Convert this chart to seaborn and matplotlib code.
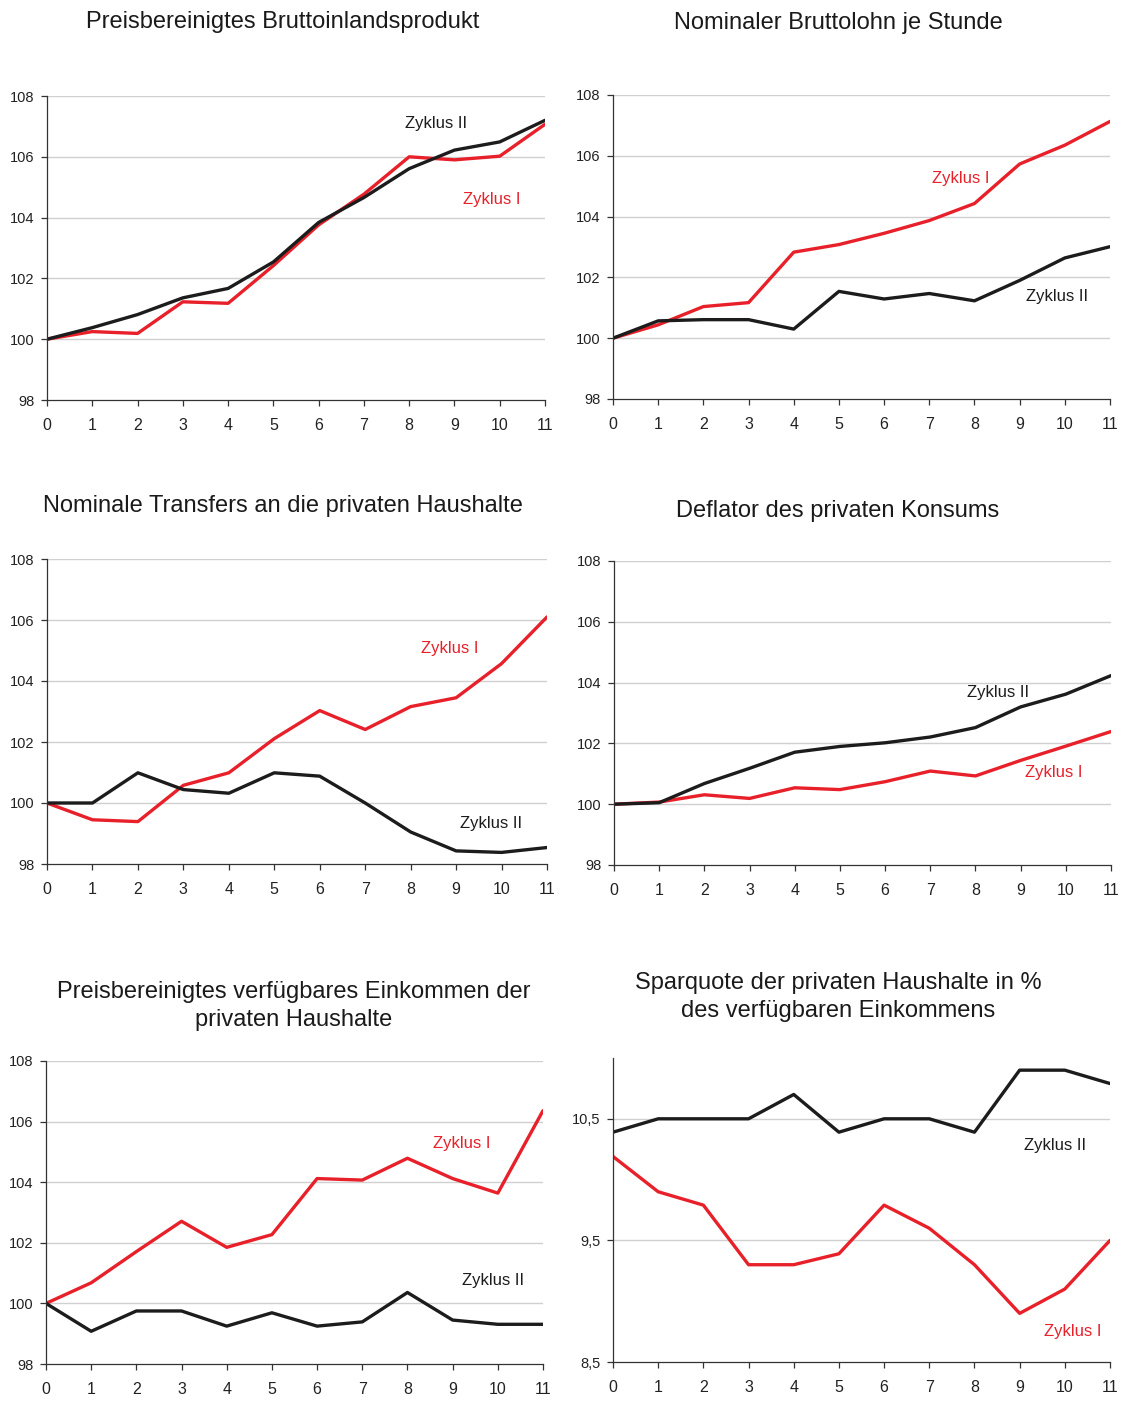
import numpy as np
import pandas as pd
import seaborn as sns
import matplotlib
matplotlib.use('Agg')
import matplotlib.pyplot as plt

sns.set_style('white')
plt.rcParams['font.family'] = ['Liberation Sans', 'DejaVu Sans']

## data
quarters = list(range(12))

bip_z1 = [100, 100.25, 100.19, 101.23, 101.18, 102.42, 103.76, 104.77, 106.0, 105.9, 106.02, 107.07]
bip_z2 = [100, 100.38, 100.81, 101.36, 101.67, 102.54, 103.84, 104.66, 105.61, 106.22, 106.49, 107.2]

lohn_z1 = [100, 100.44, 101.04, 101.17, 102.83, 103.08, 103.45, 103.87, 104.43, 105.73, 106.35, 107.13]
lohn_z2 = [100, 100.57, 100.61, 100.61, 100.3, 101.54, 101.29, 101.47, 101.23, 101.9, 102.64, 103.01]

transfer_z1 = [100, 99.45, 99.39, 100.58, 100.99, 102.11, 103.03, 102.41, 103.16, 103.45, 104.57, 106.1]
transfer_z2 = [100, 100.0, 100.99, 100.44, 100.32, 100.99, 100.88, 100.0, 99.05, 98.43, 98.38, 98.54]

deflator_z1 = [100, 100.07, 100.31, 100.19, 100.54, 100.48, 100.74, 101.09, 100.93, 101.44, 101.91, 102.39]
deflator_z2 = [100, 100.05, 100.68, 101.18, 101.71, 101.9, 102.02, 102.21, 102.52, 103.2, 103.62, 104.23]

einkommen_z1 = [100, 100.68, 101.71, 102.71, 101.85, 102.27, 104.12, 104.07, 104.79, 104.12, 103.64, 106.36]
einkommen_z2 = [100, 99.08, 99.75, 99.75, 99.25, 99.69, 99.25, 99.39, 100.36, 99.45, 99.31, 99.31]

spar_z1 = [10.19, 9.9, 9.79, 9.3, 9.3, 9.39, 9.79, 9.6, 9.3, 8.9, 9.1, 9.5]
spar_z2 = [10.39, 10.5, 10.5, 10.5, 10.7, 10.39, 10.5, 10.5, 10.39, 10.9, 10.9, 10.79]

titles = ['Preisbereinigtes Bruttoinlandsprodukt',
          'Nominaler Bruttolohn je Stunde',
          'Nominale Transfers an die privaten Haushalte',
          'Deflator des privaten Konsums',
          'Preisbereinigtes verfügbares Einkommen der\nprivaten Haushalte',
          'Sparquote der privaten Haushalte in %\ndes verfügbaren Einkommens']

index_ticks = [98, 100, 102, 104, 106, 108]
spar_ticks = [8.5, 9.5, 10.5]
spar_ticklabels = ['8,5', '9,5', '10,5']

red = '#e8202a'
black = '#1c1c1c'

W, H = 1125, 1401
fig = plt.figure(figsize=(W / 100, H / 100), dpi=100)

def add_ax(l, t, r, b):
    return fig.add_axes([l / W, 1 - b / H, (r - l) / W, (b - t) / H])

# pixel boxes of each plot area
boxes = [(47, 96, 545, 400), (613, 95, 1110, 399),
         (47, 559, 547, 864), (614, 561, 1111, 865),
         (46, 1061, 543, 1364), (613, 1058, 1110, 1362)]
# title centres in pixels
title_xy = [(283, 22), (838, 23), (283, 506), (838, 511), (294, 1006), (838, 997)]

series = [(bip_z1, bip_z2), (lohn_z1, lohn_z2), (transfer_z1, transfer_z2),
          (deflator_z1, deflator_z2), (einkommen_z1, einkommen_z2), (spar_z1, spar_z2)]

# label positions (data coords, left aligned): (x, y) for Zyklus I, Zyklus II
label_pos = [((9.19, 104.61), (7.9, 107.08)),
             ((7.06, 105.24), (9.14, 101.36)),
             ((8.23, 105.05), (9.09, 99.34)),
             ((9.1, 101.03), (7.81, 103.66)),
             ((8.57, 105.29), (9.21, 100.77)),
             ((9.54, 8.75), (9.1, 10.28))]

for i, box in enumerate(boxes):
    ax = add_ax(*box)
    z1, z2 = series[i]
    df = pd.DataFrame({'q': quarters * 2, 'v': z1 + z2,
                       'z': ['Zyklus I'] * 12 + ['Zyklus II'] * 12})
    sns.lineplot(data=df, x='q', y='v', hue='z', palette={'Zyklus I': red, 'Zyklus II': black},
                 linewidth=2.4, legend=False, ax=ax)
    ax.set_xlim(0, 11)
    ax.set_xticks(quarters)
    if i < 5:
        ax.set_ylim(98, 108)
        ax.set_yticks(index_ticks)
        ax.set_yticklabels([str(t) for t in index_ticks])
        grid_vals = index_ticks[1:]
    else:
        ax.set_ylim(8.5, 11.0)
        ax.set_yticks(spar_ticks)
        ax.set_yticklabels(spar_ticklabels)
        grid_vals = spar_ticks[1:]
    for g in grid_vals:
        ax.axhline(g, color='#d0d0d0', linewidth=1.0, zorder=0)
    ax.set_xlabel('')
    ax.set_ylabel('')
    for s in ['top', 'right']:
        ax.spines[s].set_visible(False)
    for s in ['left', 'bottom']:
        ax.spines[s].set_color('#333333')
        ax.spines[s].set_linewidth(0.9)
    ax.tick_params(axis='both', direction='out', length=4, width=0.9, color='#333333',
                   labelcolor='#222222')
    ax.tick_params(axis='x', pad=9, labelsize=11.5)
    ax.tick_params(axis='y', pad=5, labelsize=10.5)
    ax.tick_params(bottom=True, left=True)
    (x1, y1), (x2, y2) = label_pos[i]
    ax.text(x1, y1, 'Zyklus I', color=red, fontsize=12, ha='left', va='center')
    ax.text(x2, y2, 'Zyklus II', color=black, fontsize=12, ha='left', va='center')
    tx, ty = title_xy[i]
    fig.text(tx / W, 1 - ty / H, titles[i], ha='center', va='center',
             fontsize=17, color='#1a1a1a', linespacing=1.35)

plt.savefig('out.png', dpi=100)
